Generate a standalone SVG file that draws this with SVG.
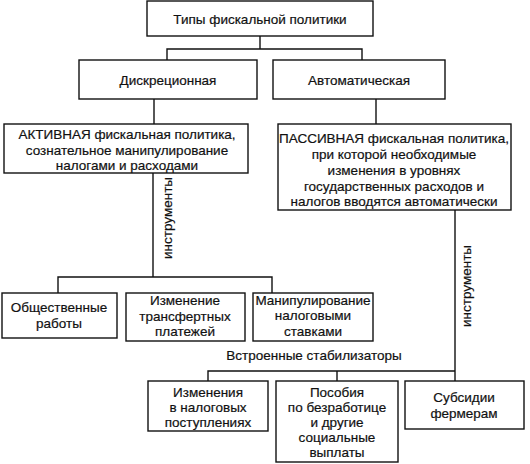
<svg xmlns="http://www.w3.org/2000/svg" width="530" height="464" viewBox="0 0 530 464">
<style>
.box{fill:#fff;stroke:#111;stroke-width:1.4}
.ln{fill:none;stroke:#111;stroke-width:1.4}
text{font-family:"Liberation Sans",Arial,sans-serif;font-size:13.5px;fill:#111;text-anchor:middle;stroke:#111;stroke-width:0.2}
</style>
<rect width="530" height="464" fill="#fff"/>
<g id="connectors">
<path class="ln" d="M260 36V49M167 60V49H362V60"/>
<path class="ln" d="M154 99V124M376 99V124"/>
<path class="ln" d="M153 173V277M58 293V277H272V293"/>
<path class="ln" d="M455 210V381M208 381V371H455M337 371V381"/>
<text transform="translate(172,218) rotate(-90)">инструменты</text>
<text transform="translate(471,286) rotate(-90)">инструменты</text>
<text x="314" y="360">Встроенные стабилизаторы</text>
</g>
<g id="n-types"><rect class="box" x="147" y="1" width="226" height="35"/><text x="260" y="24">Типы фискальной политики</text></g>
<g id="n-discr"><rect class="box" x="79" y="60" width="178" height="39"/><text x="168" y="85">Дискреционная</text></g>
<g id="n-auto"><rect class="box" x="273" y="60" width="172" height="39"/><text x="359" y="85">Автоматическая</text></g>
<g id="n-active"><rect class="box" x="4" y="124" width="244" height="49"/>
<text x="127" y="139">АКТИВНАЯ фискальная политика,</text>
<text x="127" y="155">сознательное манипулирование</text>
<text x="127" y="170">налогами и расходами</text></g>
<g id="n-passive"><rect class="box" x="278" y="124" width="233" height="86"/>
<text x="394" y="143">ПАССИВНАЯ фискальная политика,</text>
<text x="394" y="159">при которой необходимые</text>
<text x="394" y="175">изменения в уровнях</text>
<text x="394" y="191">государственных расходов и</text>
<text x="394" y="206">налогов вводятся автоматически</text></g>
<g id="n-works"><rect class="box" x="2" y="293" width="115" height="45"/><text x="59" y="312">Общественные</text><text x="59" y="328">работы</text></g>
<g id="n-transfer"><rect class="box" x="126" y="293" width="119" height="48"/><text x="185" y="305">Изменение</text><text x="185" y="321">трансфертных</text><text x="185" y="336">платежей</text></g>
<g id="n-rates"><rect class="box" x="253" y="293" width="120" height="48"/><text x="313" y="305">Манипулирование</text><text x="313" y="320">налоговыми</text><text x="313" y="336">ставками</text></g>
<g id="n-taxrev"><rect class="box" x="148" y="381" width="120" height="50"/><text x="208" y="397">Изменения</text><text x="208" y="412">в налоговых</text><text x="208" y="427">поступлениях</text></g>
<g id="n-benefits"><rect class="box" x="276" y="381" width="122" height="81"/><text x="337" y="397">Пособия</text><text x="337" y="412">по безработице</text><text x="337" y="427">и другие</text><text x="337" y="442">социальные</text><text x="337" y="457">выплаты</text></g>
<g id="n-subsidies"><rect class="box" x="405" y="381" width="119" height="48"/><text x="464" y="402">Субсидии</text><text x="464" y="418">фермерам</text></g>
</svg>
